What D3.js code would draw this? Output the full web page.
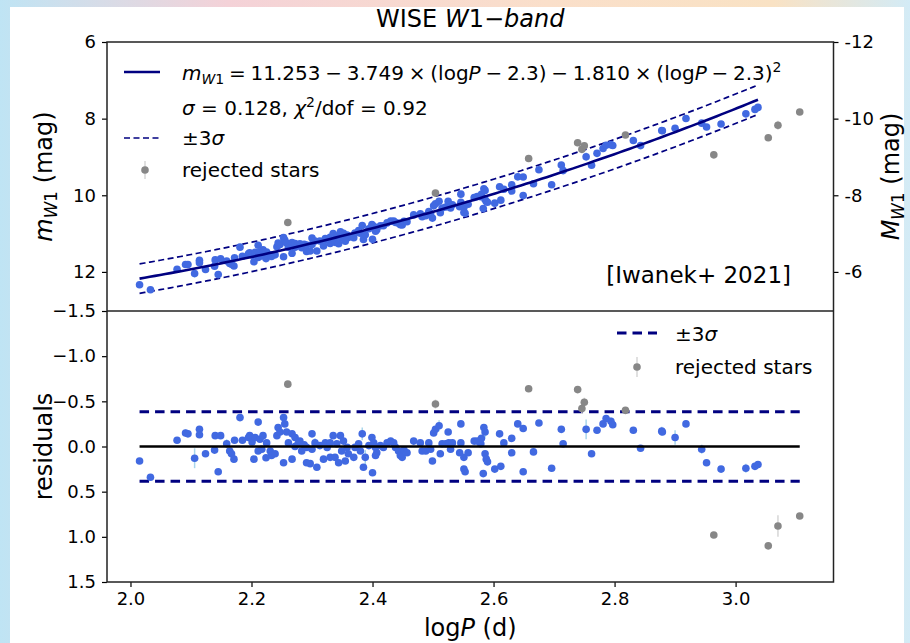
<!DOCTYPE html>
<html>
<head>
<meta charset="utf-8">
<script src="https://cdn.jsdelivr.net/npm/d3@7"></script>
<style>
    body {
        margin: 0;
        width: 910px;
        height: 643px;
        overflow: hidden;
        background: linear-gradient(90deg, #bfe4f4 0%, #f4d2d8 25%, #fadfca 60%, #f9e2c4 85%, #d3ebf6 100%);
        font-family: "DejaVu Sans", sans-serif;
    }
    #chart {
        position: absolute;
        left: 0;
        top: 0;
    }
</style>
</head>
<body>
<svg id="chart" width="910" height="643"></svg>
<script>
// Fit: m = a + b*(logP - 2.3) + c*(logP - 2.3)^2
const fitCoeffs = [11.253, -3.749, -1.810];
const pivot = 2.3;
const sigma = 0.128;
const distMod = 18; // M = m - 18

const xTicks = [2.0, 2.2, 2.4, 2.6, 2.8, 3.0];
const magTicks = [6, 8, 10, 12];
const absTicks = [-12, -10, -8, -6];
const resTicks = [-1.5, -1.0, -0.5, 0.0, 0.5, 1.0, 1.5];

// accepted stars: [logP, residual (m - fit), error]
const stars = [
    [2.015, 0.16, 0.02], [2.033, 0.34, 0.02], [2.077, -0.07, 0.02], [2.091, -0.15, 0.04],
    [2.095, -0.14, 0.02], [2.106, 0.13, 0.11], [2.114, -0.19, 0.02], [2.114, -0.13, 0.02],
    [2.124, 0.08, 0.02], [2.139, 0.04, 0.02], [2.140, -0.12, 0.02], [2.149, -0.12, 0.02],
    [2.145, 0.28, 0.02], [2.159, -0.03, 0.05], [2.164, 0.05, 0.02], [2.167, 0.08, 0.02],
    [2.171, 0.14, 0.02], [2.172, -0.07, 0.02], [2.185, -0.07, 0.02], [2.181, -0.32, 0.02],
    [2.195, -0.10, 0.02],
    [2.197, -0.12, 0.02], [2.201, -0.05, 0.02], [2.206, -0.10, 0.02], [2.211, -0.27, 0.02],
    [2.214, -0.08, 0.02], [2.219, -0.12, 0.02], [2.204, 0.14, 0.02], [2.211, 0.05, 0.02],
    [2.217, 0.03, 0.02], [2.224, 0.125, 0.02], [2.225, -0.04, 0.02], [2.231, 0.05, 0.02],
    [2.233, 0.10, 0.02], [2.239, 0.08, 0.02], [2.242, -0.12, 0.02], [2.244, -0.21, 0.02],
    [2.247, -0.16, 0.02], [2.253, -0.32, 0.02], [2.255, -0.25, 0.02], [2.258, -0.16, 0.02],
    [2.253, 0.18, 0.02], [2.261, -0.04, 0.02], [2.267, -0.14, 0.02], [2.272, -0.10, 0.02],
    [2.267, 0.14, 0.02], [2.272, 0.00, 0.02], [2.277, -0.03, 0.02], [2.283, 0.05, 0.02],
    [2.280, -0.06, 0.02], [2.287, -0.02, 0.02], [2.291, 0.18, 0.02], [2.297, 0.19, 0.02],
    [2.308, 0.23, 0.02], [2.300, -0.14, 0.02], [2.305, -0.04, 0.05], [2.291, 0.01, 0.02],
    [2.300, 0.03, 0.02], [2.313, -0.01, 0.02], [2.322, -0.04, 0.02], [2.325, 0.01, 0.02],
    [2.330, -0.04, 0.02], [2.335, -0.12, 0.02], [2.341, -0.03, 0.02], [2.349, 0.05, 0.02],
    [2.319, 0.14, 0.02], [2.330, 0.12, 0.02], [2.338, 0.12, 0.02], [2.344, 0.18, 0.02],
    [2.347, -0.12, 0.02], [2.352, -0.06, 0.02], [2.358, 0.01, 0.02], [2.360, 0.08, 0.02],
    [2.369, 0.12, 0.02], [2.355, 0.16, 0.02], [2.371, 0.01, 0.02], [2.377, -0.03, 0.02],
    [2.380, 0.05, 0.02], [2.383, -0.14, 0.07], [2.385, 0.23, 0.02], [2.388, 0.12, 0.08],
    [2.394, -0.01, 0.02], [2.399, -0.10, 0.02], [2.402, -0.04, 0.02], [2.405, 0.01, 0.02],
    [2.407, 0.07, 0.02], [2.405, 0.10, 0.02], [2.400, 0.29, 0.02], [2.413, -0.01, 0.02],
    [2.418, 0.01, 0.02], [2.424, -0.04, 0.02], [2.430, -0.06, 0.02], [2.435, -0.04, 0.02],
    [2.438, 0.01, 0.02], [2.443, 0.05, 0.02], [2.446, 0.10, 0.02], [2.449, 0.12, 0.02],
    [2.452, 0.04, 0.02], [2.457, 0.07, 0.02], [2.468, -0.06, 0.02], [2.479, -0.04, 0.02],
    [2.482, 0.05, 0.02], [2.488, 0.05, 0.02], [2.493, -0.04, 0.02], [2.496, 0.03, 0.02],
    [2.499, 0.16, 0.02], [2.501, -0.15, 0.02], [2.504, -0.19, 0.02], [2.510, -0.23, 0.06],
    [2.515, -0.03, 0.02], [2.521, -0.03, 0.02], [2.526, -0.04, 0.02], [2.532, -0.04, 0.02],
    [2.512, 0.08, 0.02], [2.529, 0.03, 0.02], [2.525, -0.16, 0.02], [2.546, -0.25, 0.02],
    [2.546, -0.04, 0.02], [2.544, 0.07, 0.02], [2.551, 0.12, 0.02], [2.558, 0.07, 0.02],
    [2.551, 0.25, 0.02], [2.553, 0.28, 0.02], [2.568, -0.06, 0.02], [2.573, -0.06, 0.02],
    [2.579, -0.03, 0.02], [2.580, -0.09, 0.02], [2.584, -0.21, 0.02], [2.586, -0.16, 0.06],
    [2.586, 0.08, 0.02], [2.588, 0.14, 0.02], [2.590, 0.17, 0.02], [2.583, 0.30, 0.02],
    [2.602, 0.25, 0.02], [2.612, 0.22, 0.02], [2.610, -0.14, 0.02], [2.617, -0.04, 0.02],
    [2.630, -0.09, 0.02], [2.630, 0.07, 0.02], [2.640, -0.25, 0.02], [2.649, -0.20, 0.02],
    [2.649, 0.28, 0.02], [2.666, 0.06, 0.02], [2.675, -0.26, 0.02], [2.696, 0.24, 0.02],
    [2.712, -0.19, 0.02], [2.715, -0.03, 0.02], [2.753, -0.19, 0.11], [2.762, 0.08, 0.02],
    [2.771, -0.18, 0.02], [2.781, -0.25, 0.02], [2.786, -0.31, 0.02], [2.794, -0.28, 0.04],
    [2.797, -0.24, 0.02], [2.831, -0.18, 0.02], [2.843, 0.02, 0.02], [2.878, -0.17, 0.05],
    [2.879, -0.16, 0.02], [2.900, -0.10, 0.08], [2.918, -0.25, 0.02], [2.944, 0.03, 0.05],
    [2.952, 0.18, 0.02], [2.976, 0.25, 0.02], [3.017, 0.24, 0.05], [3.032, 0.22, 0.02],
    [3.037, 0.20, 0.04]
];

// rejected stars: [logP, residual, error]
const rejected = [
    [2.260, -0.69, 0.02], [2.504, -0.47, 0.05], [2.658, -0.64, 0.02], [2.739, -0.63, 0.02],
    [2.746, -0.42, 0.06], [2.750, -0.49, 0.05], [2.818, -0.40, 0.02], [2.964, 0.98, 0.02],
    [3.054, 1.10, 0.02], [3.070, 0.88, 0.12], [3.106, 0.77, 0.02]
];

const blue = "#4169e1";
const navy = "#000080";
const grey = "#878787";
const font = "DejaVu Sans, sans-serif";

function fit(lp) {
    const d = lp - pivot;
    return fitCoeffs[0] + fitCoeffs[1] * d + fitCoeffs[2] * d * d;
}

const svg = d3.select("#chart");

// white figure area
svg.append("rect")
    .attr("x", 10).attr("y", 7)
    .attr("width", 894).attr("height", 636)
    .attr("fill", "#ffffff");

const left = 107, right = 833.5;
const topY = 42, midY = 311, botY = 582;

const x = d3.scaleLinear().domain([1.9612, 3.1618]).range([left, right]);
const yMag = d3.scaleLinear().domain([6, 13.02]).range([topY, midY]);
const yAbs = d3.scaleLinear().domain([6 - distMod, 13.02 - distMod]).range([topY, midY]);
const yRes = d3.scaleLinear().domain([-1.5, 1.5]).range([midY, botY]);

// helper for mathtext-like labels
function richText(sel, parts, size) {
    let shift = 0;
    parts.forEach(p => {
        const t = sel.append("tspan").text(p.t);
        let want = 0;
        if (p.sub) want = size * 0.22;
        if (p.sup) want = -size * 0.38;
        if (want !== shift) {
            t.attr("dy", want - shift);
            shift = want;
        }
        if (p.sub || p.sup) t.attr("font-size", size * 0.7);
        if (p.i) t.attr("font-style", "italic");
    });
}

// ---------- axes ----------
function styleAxis(g) {
    g.select(".domain").remove();
    g.selectAll(".tick line").attr("stroke", "#000").attr("stroke-width", 1.2);
    g.selectAll(".tick text")
        .attr("font-family", font)
        .attr("font-size", 18)
        .attr("fill", "#000");
}

const fmtMinus = d => (d < 0 ? "\u2212" : "") + Math.abs(d).toFixed(1);

svg.append("g")
    .attr("transform", `translate(${left},0)`)
    .call(d3.axisLeft(yMag).tickValues(magTicks).tickSize(5).tickPadding(6).tickFormat(d3.format("d")))
    .call(styleAxis);

svg.append("g")
    .attr("transform", `translate(${right},0)`)
    .call(d3.axisRight(yAbs).tickValues(absTicks).tickSize(5).tickPadding(6).tickFormat(d => String(d)))
    .call(styleAxis);

svg.append("g")
    .attr("transform", `translate(${left},0)`)
    .call(d3.axisLeft(yRes).tickValues(resTicks).tickSize(5).tickPadding(6).tickFormat(fmtMinus))
    .call(styleAxis);

svg.append("g")
    .attr("transform", `translate(0,${botY})`)
    .call(d3.axisBottom(x).tickValues(xTicks).tickSize(5).tickPadding(5).tickFormat(d3.format(".1f")))
    .call(styleAxis);

// ---------- top panel ----------
const accLo = d3.min(stars, d => d[0]);
const accHi = d3.max(stars, d => d[0]);
const allHi = d3.max(rejected, d => d[0]);
const curveX = d3.range(accLo, accHi + 0.0001, (accHi - accLo) / 120);

const topG = svg.append("g");

const curve = (off) => d3.line()
    .x(d => x(d))
    .y(d => yMag(fit(d) + off))(curveX);

topG.append("path").attr("d", curve(3 * sigma))
    .attr("fill", "none").attr("stroke", navy).attr("stroke-width", 1.7)
    .attr("stroke-dasharray", "6,3.5");
topG.append("path").attr("d", curve(-3 * sigma))
    .attr("fill", "none").attr("stroke", navy).attr("stroke-width", 1.7)
    .attr("stroke-dasharray", "6,3.5");

function drawPoints(g, data, yFn, color, errColor) {
    g.selectAll(null).data(data).join("line")
        .attr("x1", d => x(d[0])).attr("x2", d => x(d[0]))
        .attr("y1", d => yFn(d[1] - d[2], d[0]))
        .attr("y2", d => yFn(d[1] + d[2], d[0]))
        .attr("stroke", errColor).attr("stroke-width", 1.5);
    g.selectAll(null).data(data).join("circle")
        .attr("cx", d => x(d[0]))
        .attr("cy", d => yFn(d[1], d[0]))
        .attr("r", 3.8)
        .attr("fill", color);
}

drawPoints(topG, stars, (r, lp) => yMag(fit(lp) + r), blue, "#a9d6ec");

topG.append("path").attr("d", curve(0))
    .attr("fill", "none").attr("stroke", navy).attr("stroke-width", 2.6);

drawPoints(topG, rejected, (r, lp) => yMag(fit(lp) + r), grey, "#d6d6d6");

// ---------- bottom panel ----------
const botG = svg.append("g");

[3 * sigma, -3 * sigma].forEach(v => {
    botG.append("line")
        .attr("x1", x(accLo)).attr("x2", x(allHi))
        .attr("y1", yRes(v)).attr("y2", yRes(v))
        .attr("stroke", navy).attr("stroke-width", 3)
        .attr("stroke-dasharray", "9.5,6");
});

drawPoints(botG, stars, r => yRes(r), blue, "#a9d6ec");

botG.append("line")
    .attr("x1", x(accLo)).attr("x2", x(allHi))
    .attr("y1", yRes(0)).attr("y2", yRes(0))
    .attr("stroke", "#000").attr("stroke-width", 2.6);

drawPoints(botG, rejected, r => yRes(r), grey, "#d6d6d6");

// ---------- frames ----------
svg.append("rect")
    .attr("x", left).attr("y", topY)
    .attr("width", right - left).attr("height", botY - topY)
    .attr("fill", "none").attr("stroke", "#222").attr("stroke-width", 1.5);
svg.append("line")
    .attr("x1", left).attr("x2", right)
    .attr("y1", midY).attr("y2", midY)
    .attr("stroke", "#222").attr("stroke-width", 1.5);

// ---------- legends ----------
const lg = svg.append("g").attr("font-family", font).attr("font-size", 20);

lg.append("line").attr("x1", 124).attr("x2", 160).attr("y1", 72).attr("y2", 72)
    .attr("stroke", navy).attr("stroke-width", 2.6);
richText(lg.append("text").attr("x", 182).attr("y", 80).attr("word-spacing", -1.6), [
    { t: "m", i: true }, { t: "W", i: true, sub: true }, { t: "1", sub: true },
    { t: " = 11.253 \u2212 3.749 \u00d7 (log" }, { t: "P", i: true },
    { t: " \u2212 2.3) \u2212 1.810 \u00d7 (log" }, { t: "P", i: true },
    { t: " \u2212 2.3)" }, { t: "2", sup: true }
], 20);
richText(lg.append("text").attr("x", 182).attr("y", 115), [
    { t: "\u03c3", i: true }, { t: " = 0.128, " }, { t: "\u03c7", i: true },
    { t: "2", sup: true }, { t: "/dof = 0.92" }
], 20);

lg.append("line").attr("x1", 124).attr("x2", 160).attr("y1", 138).attr("y2", 138)
    .attr("stroke", navy).attr("stroke-width", 1.7).attr("stroke-dasharray", "6,3.5");
richText(lg.append("text").attr("x", 182).attr("y", 145), [
    { t: "\u00b13" }, { t: "\u03c3", i: true }
], 20);

lg.append("line").attr("x1", 145).attr("x2", 145).attr("y1", 161).attr("y2", 179)
    .attr("stroke", "#d6d6d6").attr("stroke-width", 1.5);
lg.append("circle").attr("cx", 145).attr("cy", 170).attr("r", 3.8).attr("fill", grey);
lg.append("text").attr("x", 182).attr("y", 177).text("rejected stars");

lg.append("text").attr("x", 791).attr("y", 283)
    .attr("text-anchor", "end").attr("font-size", 23)
    .text("[Iwanek+ 2021]");

lg.append("line").attr("x1", 617).attr("x2", 657).attr("y1", 333).attr("y2", 333)
    .attr("stroke", navy).attr("stroke-width", 3).attr("stroke-dasharray", "9.5,6");
richText(lg.append("text").attr("x", 675).attr("y", 341), [
    { t: "\u00b13" }, { t: "\u03c3", i: true }
], 20);
lg.append("line").attr("x1", 637).attr("x2", 637).attr("y1", 357).attr("y2", 377)
    .attr("stroke", "#d6d6d6").attr("stroke-width", 1.5);
lg.append("circle").attr("cx", 637).attr("cy", 367).attr("r", 3.8).attr("fill", grey);
lg.append("text").attr("x", 675).attr("y", 374).text("rejected stars");

// ---------- titles & axis labels ----------
const tl = svg.append("g").attr("font-family", font).attr("font-size", 24).attr("fill", "#000");

richText(tl.append("text").attr("x", (left + right) / 2).attr("y", 27).attr("text-anchor", "middle")
    .attr("font-size", 24), [
    { t: "WISE " }, { t: "W", i: true }, { t: "1\u2212" }, { t: "band", i: true }
], 24);

richText(tl.append("text")
    .attr("transform", `translate(52,${(topY + midY) / 2}) rotate(-90)`)
    .attr("text-anchor", "middle"), [
    { t: "m", i: true }, { t: "W", i: true, sub: true }, { t: "1", sub: true }, { t: " (mag)" }
], 24);

richText(tl.append("text")
    .attr("transform", `translate(899,${(topY + midY) / 2}) rotate(-90)`)
    .attr("text-anchor", "middle"), [
    { t: "M", i: true }, { t: "W", i: true, sub: true }, { t: "1", sub: true }, { t: " (mag)" }
], 24);

tl.append("text")
    .attr("transform", `translate(52,${(midY + botY) / 2}) rotate(-90)`)
    .attr("text-anchor", "middle")
    .text("residuals");

richText(tl.append("text").attr("x", (left + right) / 2).attr("y", 636).attr("text-anchor", "middle"), [
    { t: "log" }, { t: "P", i: true }, { t: " (d)" }
], 24);
</script>
</body>
</html>
